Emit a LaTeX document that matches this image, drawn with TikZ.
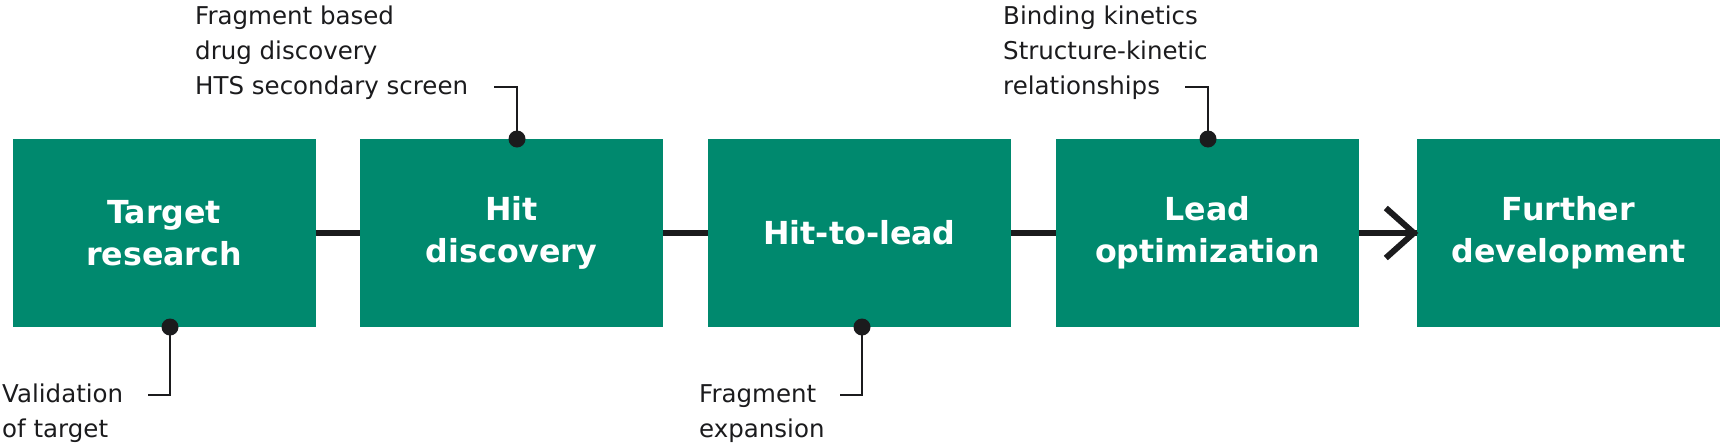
\documentclass[tikz,border=0pt]{standalone}
\usepackage{fontspec}
\setmainfont{DejaVu Sans}
\usetikzlibrary{calc}
\definecolor{boxgreen}{HTML}{00896E}
\definecolor{ink}{HTML}{1B1B1D}
\begin{document}
\begin{tikzpicture}[x=1pt,y=-1pt,
 stage/.style={fill=boxgreen, minimum width=303pt, minimum height=188pt, inner sep=0pt,
   text=white, align=center, font=\fontsize{31.7}{42}\selectfont\bfseries},
 link/.style={draw=ink, line width=6pt},
 leader/.style={draw=ink, line width=2.5pt},
 pin/.style={circle, fill=ink, minimum size=17pt, inner sep=0pt},
 note/.style={text=ink, align=left, inner sep=0pt, font=\fontsize{24.5}{35}\selectfont}]
\useasboundingbox (0,0) rectangle (1721,445);
\node[stage] (s1) at (164,233) {Target\\research};
\node[stage] (s2) at (511.5,233) {Hit\\discovery};
\node[stage] (s3) at (859.5,233) {Hit-to-lead};
\node[stage] (s4) at (1207.5,233) {Lead\\optimization};
\node[stage] (s5) at (1568.5,233) {Further\\development};
\draw[link] (s1.east) -- (s2.west);
\draw[link] (s2.east) -- (s3.west);
\draw[link] (s3.east) -- (s4.west);
\draw[link] (s4.east) -- (s5.west);
\coordinate (tip) at ($(s5.west)+(-3,0)$);
\coordinate (barbA) at ($(tip)+(-28,-25)$);
\coordinate (barbB) at ($(tip)+(-28,25)$);
\draw[link, line join=miter] (barbA) -- (tip) -- (barbB);
% pins and leaders
\node[pin] (p1) at (170,327) {};
\node[pin] (p2) at (517,139) {};
\node[pin] (p3) at (862,327) {};
\node[pin] (p4) at (1208,139) {};
\coordinate (k1) at (148,395);
\coordinate (k2) at (494,87);
\coordinate (k3) at (840,395);
\coordinate (k4) at (1185,87);
\draw[leader] (p1.center) |- (k1);
\draw[leader] (p2.center) |- (k2);
\draw[leader] (p3.center) |- (k3);
\draw[leader] (p4.center) |- (k4);
\node[note, anchor=base west] (n1) at (2,437) {Validation\\of target};
\node[note, anchor=base west] (n2) at (195,94) {Fragment based\\drug discovery\\HTS secondary screen};
\node[note, anchor=base west] (n3) at (699,437) {Fragment\\expansion};
\node[note, anchor=base west] (n4) at (1003,94) {Binding kinetics\\Structure-kinetic\\relationships};
\end{tikzpicture}
\end{document}
